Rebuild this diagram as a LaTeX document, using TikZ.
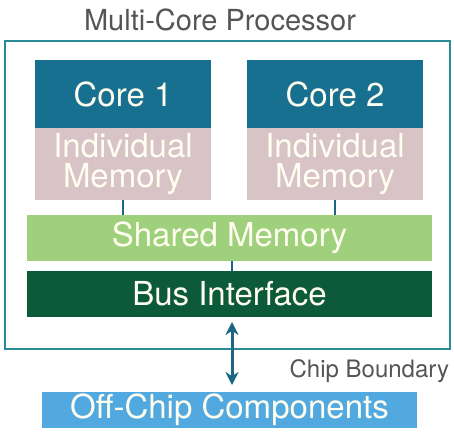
\documentclass[tikz,border=0pt]{standalone}
\usepackage{fontspec}
\setmainfont{TeX Gyre Heros}
\usepackage{tikz}
\usetikzlibrary{positioning}
\usetikzlibrary{arrows.meta}

\definecolor{coreblue}{HTML}{17708F}
\definecolor{memrose}{HTML}{D8C3C6}
\definecolor{sharedgreen}{HTML}{9FD07C}
\definecolor{busgreen}{HTML}{0D5A3A}
\definecolor{offblue}{HTML}{52A9DF}
\definecolor{chipteal}{HTML}{2A8A98}
\definecolor{linkblue}{HTML}{1B6585}
\definecolor{labelgray}{HTML}{555555}

\begin{document}
\begin{tikzpicture}[x=1pt,y=-1pt,
                    every node/.style={inner sep=0pt,outer sep=0pt},
                    block/.style={rectangle,text=white!94!yellow,
                                  font=\fontsize{33}{30}\selectfont,align=center},
                    corebox/.style={block,fill=coreblue,minimum width=176pt,minimum height=68pt},
                    membox/.style={block,fill=memrose,minimum width=176pt,minimum height=72pt},
                    widebox/.style={block,minimum width=405pt,minimum height=46pt},
                    link/.style={linkblue,line width=2pt}]
\useasboundingbox (0,0) rectangle (454,438);
% chip outline and its labels
\draw[chipteal,line width=2.5pt] (5,41) rectangle (450,349);
\node[text=labelgray,font=\fontsize{29}{29}\selectfont] (title) at (220,20) {Multi-Core Processor};
\node[text=labelgray,font=\fontsize{24}{24}\selectfont,anchor=east] (boundary) at (449,371) {Chip Boundary};
% the two cores with their own memory
\foreach \core/\x in {1/123,2/335}
{
      \node[corebox] (core \core) at (\x,94) {Core \core};
      \node[membox,below=0pt of core \core] (memory \core) {Individual\\Memory};
}
%
\node[widebox,fill=sharedgreen] (shared) at (229.5,238) {Shared Memory};
\node[widebox,fill=busgreen] (bus) at (229.5,294) {Bus Interface};
\node[block,fill=offblue,minimum width=375pt,minimum height=36pt] (offchip) at (229.5,410) {Off-Chip Components};
%
\draw[link] (memory 1) -- (memory 1 |- shared.north);
\draw[link] (memory 2) -- (memory 2 |- shared.north);
\draw[link] ([xshift=2.5pt]shared.south) -- ([xshift=2.5pt]bus.north);
\draw[linkblue,line width=3pt,{Stealth[length=13pt,width=13pt]}-{Stealth[length=13pt,width=13pt]},
      shorten <=5pt,shorten >=7pt] ([xshift=2.5pt]bus.south) -- ([xshift=2.5pt]offchip.north);
\end{tikzpicture}
\end{document}
